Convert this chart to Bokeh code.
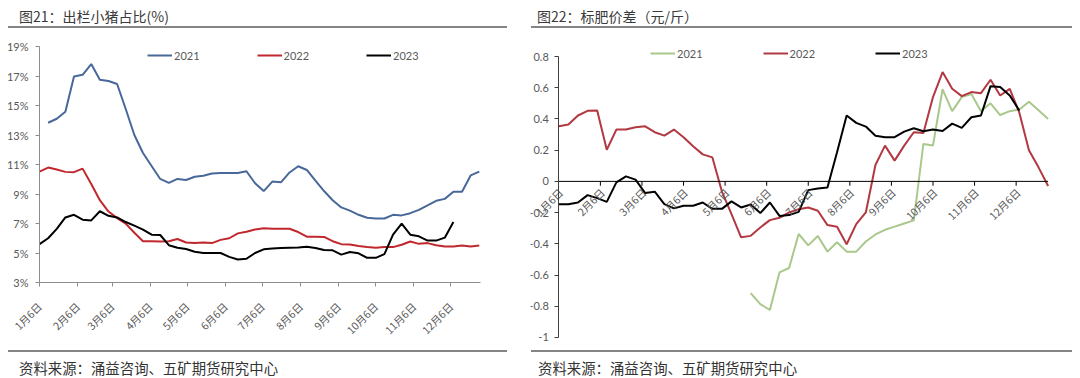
import math
import pandas as pd
from bokeh.plotting import figure
from bokeh.models import Range1d, FixedTicker, Legend, LegendItem, Div
from bokeh.layouts import column, row
from bokeh.embed import file_html
from bokeh.resources import INLINE
from bokeh.core.properties import value

# ---------------- data ----------------
MONTH_LABELS = ["1月6日", "2月6日", "3月6日", "4月6日", "5月6日", "6月6日",
                "7月6日", "8月6日", "9月6日", "10月6日", "11月6日", "12月6日"]

# Chart 21: share of piglets in slaughter (%), weekly
PIG_2021_START = "2021-01-13"
PIG_2021 = [13.83, 14.10, 14.58, 16.97, 17.08, 17.81, 16.75, 16.66, 16.46, 14.76,
            13.00, 11.78, 10.90, 10.02, 9.75, 10.02, 9.95, 10.17, 10.24, 10.39,
            10.43, 10.43, 10.43, 10.54, 9.73, 9.20, 9.84, 9.79, 10.46, 10.88,
            10.63, 9.90, 9.20, 8.58, 8.09, 7.87, 7.59, 7.39, 7.34, 7.34,
            7.59, 7.55, 7.70, 7.92, 8.23, 8.54, 8.67, 9.15, 9.15, 10.26, 10.52]
PIG_2022_START = "2022-01-06"
PIG_2022 = [10.52, 10.79, 10.66, 10.50, 10.48, 10.72, 9.68, 8.58, 7.81, 7.37,
            6.99, 6.37, 5.80, 5.80, 5.78, 5.80, 5.95, 5.71, 5.67, 5.71,
            5.67, 5.89, 6.00, 6.33, 6.44, 6.59, 6.68, 6.64, 6.64, 6.64,
            6.42, 6.11, 6.11, 6.09, 5.80, 5.60, 5.58, 5.47, 5.40, 5.36,
            5.40, 5.40, 5.56, 5.78, 5.62, 5.67, 5.53, 5.44, 5.44, 5.51,
            5.44, 5.51]
PIG_2023_START = "2023-01-06"
PIG_2023 = [5.60, 6.00, 6.64, 7.41, 7.59, 7.26, 7.21, 7.83, 7.52, 7.41,
            7.10, 6.86, 6.59, 6.24, 6.22, 5.53, 5.36, 5.27, 5.09, 5.00,
            5.00, 5.00, 4.74, 4.56, 4.61, 5.00, 5.25, 5.31, 5.34, 5.36,
            5.38, 5.42, 5.34, 5.20, 5.18, 4.89, 5.07, 4.98, 4.67, 4.67,
            4.92, 6.24, 6.99, 6.24, 6.13, 5.84, 5.84, 6.04, 7.10]
PIG_Y_TICKS = [3, 5, 7, 9, 11, 13, 15, 17, 19]
PIG_Y_LABELS = ["3%", "5%", "7%", "9%", "11%", "13%", "15%", "17%", "19%"]

# Chart 22: standard-fat pig price spread (yuan/jin), by week number
SPREAD_2021_FIRST_WEEK = 20
SPREAD_2021 = [-0.716, -0.786, -0.824, -0.583, -0.555, -0.337, -0.41, -0.35, -0.45, -0.39,
               -0.45, -0.45, -0.385, -0.34, -0.31, -0.29, -0.27, -0.25, 0.24, 0.23,
               0.59, 0.45, 0.54, 0.56, 0.45, 0.50, 0.425, 0.45, 0.46, 0.51,
               0.455, 0.40]
SPREAD_2022_FIRST_WEEK = 0
SPREAD_2022 = [0.353, 0.364, 0.422, 0.452, 0.454, 0.203, 0.332, 0.332, 0.347, 0.353,
               0.315, 0.293, 0.332, 0.283, 0.225, 0.173, 0.154, -0.065, -0.21, -0.358,
               -0.349, -0.295, -0.248, -0.233, -0.199, -0.178, -0.167, -0.188, -0.28, -0.291,
               -0.403, -0.274, -0.199, 0.105, 0.229, 0.133, 0.229, 0.315, 0.31, 0.54,
               0.70, 0.593, 0.546, 0.572, 0.565, 0.651, 0.55, 0.593, 0.44, 0.2,
               0.09, -0.03]
SPREAD_2023_FIRST_WEEK = 0
SPREAD_2023 = [-0.146, -0.146, -0.135, -0.088, -0.107, -0.131, -0.006, 0.032, 0.011, -0.075,
               -0.066, -0.146, -0.173, -0.156, -0.156, -0.135, -0.176, -0.176, -0.128, -0.167,
               -0.148, -0.203, -0.135, -0.221, -0.216, -0.195, -0.056, -0.045, -0.039, 0.186,
               0.422, 0.375, 0.351, 0.293, 0.283, 0.283, 0.319, 0.340, 0.321, 0.332,
               0.323, 0.370, 0.343, 0.411, 0.422, 0.610, 0.604, 0.550, 0.454]
SPREAD_Y_TICKS = [-1.0, -0.8, -0.6, -0.4, -0.2, 0.0, 0.2, 0.4, 0.6, 0.8]
SPREAD_Y_LABELS = ["-1", "-0.8", "-0.6", "-0.4", "-0.2", "0", "0.2", "0.4", "0.6", "0.8"]

TITLE_1 = "图21：出栏小猪占比(%)"
TITLE_2 = "图22：标肥价差（元/斤）"
SOURCE = "资料来源：涌益咨询、五矿期货研究中心"

# ---------------- helpers ----------------
CJK = "Noto Sans CJK SC"
NUM = "Lato"
GRAY_TXT = "#595959"


def day_offsets(start, n):
    d = pd.date_range(start, periods=n, freq="7D")
    return [(x - pd.Timestamp(x.year, 1, 6)).days for x in d]


def style_common(p):
    p.outline_line_color = None
    p.xgrid.visible = False
    p.ygrid.visible = False
    p.background_fill_color = "white"
    p.border_fill_color = "white"
    p.frame_align = False


# ---------------- chart 21 ----------------
p1 = figure(width=528, height=317, output_backend="svg", toolbar_location=None,
            x_range=Range1d(0, 358), y_range=Range1d(3, 19),
            min_border_left=39, min_border_right=48, min_border_top=18, min_border_bottom=57)
style_common(p1)
month_days = [(pd.Timestamp(2023, m, 6) - pd.Timestamp(2023, 1, 6)).days for m in range(1, 13)]

r21 = p1.line(day_offsets(PIG_2021_START, len(PIG_2021)), PIG_2021, line_color="#48689a", line_width=2)
r22 = p1.line(day_offsets(PIG_2022_START, len(PIG_2022)), PIG_2022, line_color="#c0282e", line_width=2)
r23 = p1.line(day_offsets(PIG_2023_START, len(PIG_2023)), PIG_2023, line_color="#000000", line_width=2)

p1.xaxis.ticker = FixedTicker(ticks=month_days)
p1.xaxis.major_label_overrides = {d: l for d, l in zip(month_days, MONTH_LABELS)}
p1.xaxis.major_label_orientation = math.pi / 4
p1.xaxis.major_label_text_font = CJK
p1.xaxis.major_label_text_font_size = "10.5px"
p1.xaxis.major_label_text_color = GRAY_TXT
p1.xaxis.major_label_standoff = 18
p1.yaxis.ticker = FixedTicker(ticks=PIG_Y_TICKS)
p1.yaxis.major_label_overrides = {t: l for t, l in zip(PIG_Y_TICKS, PIG_Y_LABELS)}
p1.yaxis.major_label_text_font = NUM
p1.yaxis.major_label_text_font_size = "11px"
p1.yaxis.major_label_text_color = GRAY_TXT
p1.yaxis.major_label_standoff = 7
for ax in (p1.xaxis, p1.yaxis):
    ax.axis_line_color = "#8c8c8c"
    ax.major_tick_line_color = "#8c8c8c"
    ax.major_tick_out = 4
    ax.major_tick_in = 0
    ax.minor_tick_line_color = None

leg1 = Legend(items=[LegendItem(label="2021", renderers=[r21]),
                     LegendItem(label="2022", renderers=[r22]),
                     LegendItem(label="2023", renderers=[r23])],
              orientation="horizontal", location=(108, 220), spacing=57,
              padding=0, margin=0, border_line_color=None, background_fill_alpha=0,
              glyph_width=25, glyph_height=14, label_height=14, label_standoff=2,
              label_text_font=NUM, label_text_font_size="11px", label_text_color=GRAY_TXT)
p1.add_layout(leg1)

# ---------------- chart 22 ----------------
# frame: x 530..1060 (week 0 at 558.3, 9.594 px/week), y 40..349 (0.8 at 56, -1 at 337)
p2 = figure(width=552, height=321, output_backend="svg", toolbar_location=None,
            x_range=Range1d(-2.95, 52.29), y_range=Range1d(-1.0769, 0.9025), x_axis_location=None,
            min_border_left=2, min_border_right=20, min_border_top=12, min_border_bottom=0)
style_common(p2)
g21 = p2.line(list(range(SPREAD_2021_FIRST_WEEK, SPREAD_2021_FIRST_WEEK + len(SPREAD_2021))),
              SPREAD_2021, line_color="#a9c88c", line_width=2)
g22 = p2.line(list(range(SPREAD_2022_FIRST_WEEK, SPREAD_2022_FIRST_WEEK + len(SPREAD_2022))),
              SPREAD_2022, line_color="#b23842", line_width=2)
g23 = p2.line(list(range(SPREAD_2023_FIRST_WEEK, SPREAD_2023_FIRST_WEEK + len(SPREAD_2023))),
              SPREAD_2023, line_color="#000000", line_width=2)

last_week = len(SPREAD_2022) - 1
p2.segment(x0=[0], y0=[0], x1=[last_week], y1=[0], line_color="#000000", line_width=1)
week_ticks = [i * 52 / 12 for i in range(12)]
p2.segment(x0=week_ticks[1:], y0=[0] * 11, x1=week_ticks[1:], y1=[-0.028] * 11,
           line_color="#000000", line_width=1)
p2.text(x=week_ticks, y=[0] * 12, text=MONTH_LABELS, angle=math.pi / 4,
        text_align="right", text_baseline="middle", x_offset=2, y_offset=9,
        text_font=value(CJK), text_font_size=value("10.5px"), text_color=GRAY_TXT)

# y axis (line + ticks) at week 0; tick labels drawn as text so none is clipped
p2.yaxis.fixed_location = 0
p2.yaxis.bounds = (-1, 0.8)
p2.yaxis.ticker = FixedTicker(ticks=SPREAD_Y_TICKS)
p2.yaxis.major_label_overrides = {t: "" for t in SPREAD_Y_TICKS}
p2.yaxis.axis_line_color = "#404040"
p2.yaxis.major_tick_line_color = "#404040"
p2.yaxis.major_tick_out = 4
p2.yaxis.major_tick_in = 0
p2.yaxis.minor_tick_line_color = None
p2.text(x=[0] * len(SPREAD_Y_TICKS), y=SPREAD_Y_TICKS, text=SPREAD_Y_LABELS,
        text_align="right", text_baseline="middle", x_offset=-10,
        text_font=value(NUM), text_font_size=value("11px"), text_color=GRAY_TXT)

leg2 = Legend(items=[LegendItem(label="2021", renderers=[g21]),
                     LegendItem(label="2022", renderers=[g22]),
                     LegendItem(label="2023", renderers=[g23])],
              orientation="horizontal", location=(120, 289), spacing=60,
              padding=0, margin=0, border_line_color=None, background_fill_alpha=0,
              glyph_width=25, glyph_height=14, label_height=14, label_standoff=2,
              label_text_font=NUM, label_text_font_size="11px", label_text_color=GRAY_TXT)
p2.add_layout(leg2)

# ---------------- titles / footer ----------------
title_html = (
    '<div style="position:relative;width:1080px;height:28px;font-family:\'Noto Sans CJK SC\';">'
    f'<span style="position:absolute;left:19px;top:8px;font-size:14px;line-height:16px;color:#3a3a3a;white-space:nowrap;">{TITLE_1}</span>'
    f'<span style="position:absolute;left:537px;top:8px;font-size:14px;line-height:16px;color:#3a3a3a;white-space:nowrap;">{TITLE_2}</span>'
    '<div style="position:absolute;left:8px;top:26px;width:499px;height:2px;background:#858585;"></div>'
    '<div style="position:absolute;left:531px;top:26px;width:541px;height:2px;background:#858585;"></div>'
    '</div>'
)
footer_html = (
    '<div style="position:relative;width:1080px;height:29px;font-family:\'Noto Sans CJK SC\';">'
    '<div style="position:absolute;left:8px;top:1px;width:499px;height:2px;background:#858585;"></div>'
    '<div style="position:absolute;left:531px;top:1px;width:541px;height:2px;background:#858585;"></div>'
    f'<span style="position:absolute;left:19px;top:11px;font-size:14.4px;line-height:16px;color:#333333;white-space:nowrap;">{SOURCE}</span>'
    f'<span style="position:absolute;left:538px;top:11px;font-size:14.4px;line-height:16px;color:#333333;white-space:nowrap;">{SOURCE}</span>'
    '</div>'
)
title_div = Div(text=title_html, width=1080, height=28, margin=0)
footer_div = Div(text=footer_html, width=1080, height=29, margin=0)

layout = column(title_div, row(p1, p2, spacing=0), footer_div, spacing=0)

open("out.html", "w").write(file_html(layout, INLINE))
